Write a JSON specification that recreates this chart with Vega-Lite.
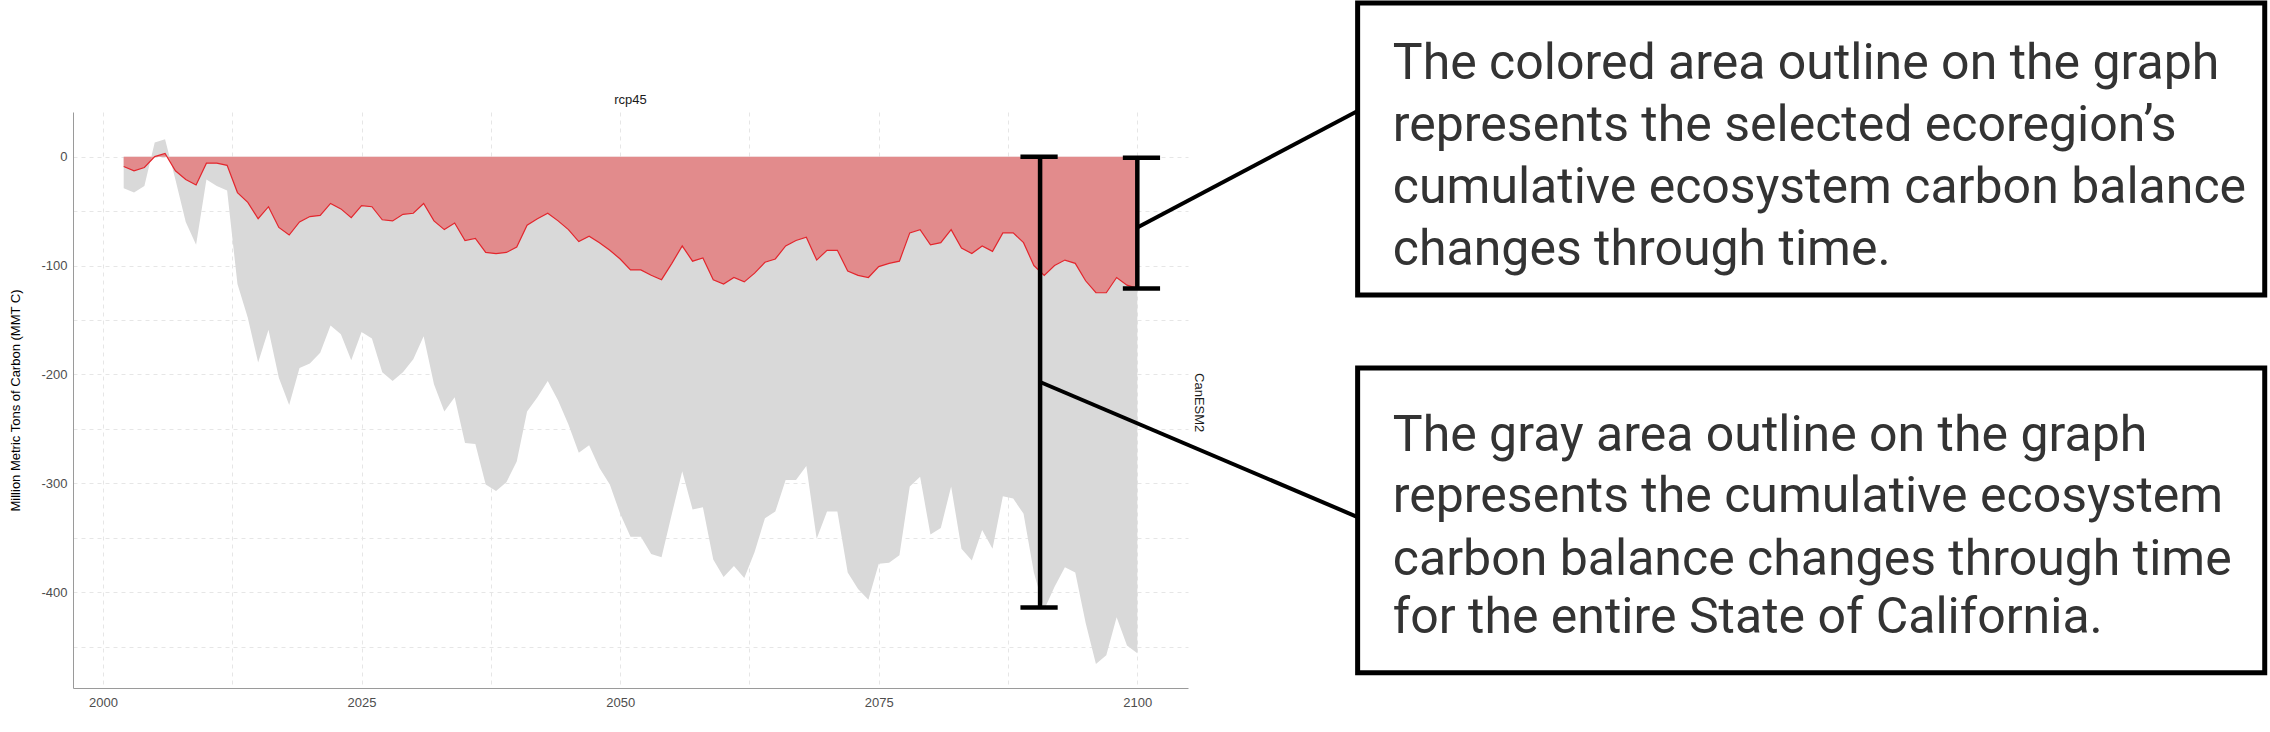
{
"$schema":"https://vega.github.io/schema/vega-lite/v6.json",
"width":1115,"height":576,
"autosize":{"type":"none"},
"padding":{"left":73,"top":112,"right":1082,"bottom":44},
"background":"white",
"config":{"view":{"stroke":null},"font":"Liberation Sans"},
"datasets":{
"series":[
{"year":2002,"region":-9,"state":-29},{"year":2003,"region":-13,"state":-33},{"year":2004,"region":-10,"state":-27},{"year":2005,"region":0,"state":13},{"year":2006,"region":3,"state":16},{"year":2007,"region":-13,"state":-21},{"year":2008,"region":-21,"state":-60},{"year":2009,"region":-26,"state":-81},{"year":2010,"region":-6,"state":-21},{"year":2011,"region":-6,"state":-27},{"year":2012,"region":-8,"state":-31},{"year":2013,"region":-33,"state":-117},{"year":2014,"region":-42,"state":-148},{"year":2015,"region":-57,"state":-189},{"year":2016,"region":-46,"state":-159},{"year":2017,"region":-65,"state":-203},{"year":2018,"region":-72,"state":-228},{"year":2019,"region":-60,"state":-194},{"year":2020,"region":-55,"state":-190},{"year":2021,"region":-54,"state":-180},{"year":2022,"region":-43,"state":-155},{"year":2023,"region":-48,"state":-163},{"year":2024,"region":-56,"state":-187},{"year":2025,"region":-45,"state":-161},{"year":2026,"region":-46,"state":-167},{"year":2027,"region":-58,"state":-198},{"year":2028,"region":-59,"state":-206},{"year":2029,"region":-53,"state":-198},{"year":2030,"region":-52,"state":-186},{"year":2031,"region":-43,"state":-165},{"year":2032,"region":-59,"state":-209},{"year":2033,"region":-67,"state":-234},{"year":2034,"region":-61,"state":-221},{"year":2035,"region":-77,"state":-263},{"year":2036,"region":-75,"state":-264},{"year":2037,"region":-88,"state":-301},{"year":2038,"region":-89,"state":-307},{"year":2039,"region":-88,"state":-299},{"year":2040,"region":-83,"state":-280},{"year":2041,"region":-63,"state":-234},{"year":2042,"region":-57,"state":-221},{"year":2043,"region":-52,"state":-206},{"year":2044,"region":-59,"state":-224},{"year":2045,"region":-67,"state":-246},{"year":2046,"region":-78,"state":-272},{"year":2047,"region":-73,"state":-265},{"year":2048,"region":-79,"state":-286},{"year":2049,"region":-86,"state":-301},{"year":2050,"region":-94,"state":-328},{"year":2051,"region":-104,"state":-349},{"year":2052,"region":-104,"state":-349},{"year":2053,"region":-109,"state":-365},{"year":2054,"region":-113,"state":-368},{"year":2055,"region":-98,"state":-328},{"year":2056,"region":-82,"state":-289},{"year":2057,"region":-96,"state":-324},{"year":2058,"region":-93,"state":-322},{"year":2059,"region":-113,"state":-370},{"year":2060,"region":-117,"state":-386},{"year":2061,"region":-111,"state":-376},{"year":2062,"region":-115,"state":-387},{"year":2063,"region":-107,"state":-363},{"year":2064,"region":-97,"state":-332},{"year":2065,"region":-94,"state":-326},{"year":2066,"region":-82,"state":-297},{"year":2067,"region":-77,"state":-297},{"year":2068,"region":-74,"state":-284},{"year":2069,"region":-95,"state":-351},{"year":2070,"region":-86,"state":-326},{"year":2071,"region":-86,"state":-326},{"year":2072,"region":-105,"state":-382},{"year":2073,"region":-109,"state":-397},{"year":2074,"region":-111,"state":-407},{"year":2075,"region":-101,"state":-374},{"year":2076,"region":-98,"state":-373},{"year":2077,"region":-96,"state":-366},{"year":2078,"region":-70,"state":-303},{"year":2079,"region":-67,"state":-294},{"year":2080,"region":-81,"state":-347},{"year":2081,"region":-79,"state":-341},{"year":2082,"region":-67,"state":-303},{"year":2083,"region":-84,"state":-360},{"year":2084,"region":-89,"state":-371},{"year":2085,"region":-82,"state":-343},{"year":2086,"region":-87,"state":-360},{"year":2087,"region":-70,"state":-312},{"year":2088,"region":-70,"state":-314},{"year":2089,"region":-79,"state":-328},{"year":2090,"region":-100,"state":-382},{"year":2091,"region":-109,"state":-416},{"year":2092,"region":-100,"state":-395},{"year":2093,"region":-95,"state":-377},{"year":2094,"region":-98,"state":-382},{"year":2095,"region":-114,"state":-428},{"year":2096,"region":-125,"state":-466},{"year":2097,"region":-125,"state":-458},{"year":2098,"region":-111,"state":-423},{"year":2099,"region":-118,"state":-449},{"year":2100,"region":-121,"state":-456}
],
"brackets":[
{"x":2090.6,"x1":2088.7,"x2":2092.3,"top":0,"bottom":-414},
{"x":2100,"x1":2098.6,"x2":2102.2,"top":-1,"bottom":-121}
],
"connectors":[
{"id":"a","o":0,"x":2100,"y":-65},{"id":"a","o":1,"x":2121.3,"y":42},
{"id":"b","o":0,"x":2090.6,"y":-207},{"id":"b","o":1,"x":2121.3,"y":-331}
],
"boxes":[
{"x1":2121.3,"x2":2209.0,"y1":141,"y2":-127},
{"x1":2121.3,"x2":2209.0,"y1":-194,"y2":-474}
],
"notes":[
{"x":2124.7,"y":85,"t":"The colored area outline on the graph"},
{"x":2124.7,"y":28,"t":"represents the selected ecoregion’s"},
{"x":2124.7,"y":-29,"t":"cumulative ecosystem carbon balance"},
{"x":2124.7,"y":-86,"t":"changes through time."},
{"x":2124.7,"y":-257,"t":"The gray area outline on the graph"},
{"x":2124.7,"y":-313,"t":"represents the cumulative ecosystem"},
{"x":2124.7,"y":-370,"t":"carbon balance changes through time"},
{"x":2124.7,"y":-424,"t":"for the entire State of California."}
]
},
"layer":[
{"data":{"name":"series"},"mark":{"type":"area","color":"#d9d9d9"},
 "encoding":{
  "x":{"field":"year","type":"quantitative","scale":{"domain":[1997.1,2104.9],"nice":false,"zero":false},
   "axis":{"title":null,"values":[2000,2012.5,2025,2037.5,2050,2062.5,2075,2087.5,2100],"labelExpr":"datum.value % 25 == 0 ? datum.value : ''","ticks":false,"grid":true,"gridDash":[4,4],"gridColor":"#e6e6e6","domainColor":"#9a9a9a","labelColor":"#4d4d4d","labelFontSize":13,"labelPadding":8,"labelFont":"Liberation Sans"}},
  "y":{"field":"state","type":"quantitative","scale":{"domain":[-488,41],"nice":false,"zero":false},
   "axis":{"title":"Million Metric Tons of Carbon (MMT C)","titleFontSize":13,"titleFontWeight":"normal","titleColor":"#000","titlePadding":18,"values":[-450,-400,-350,-300,-250,-200,-150,-100,-50,0],"labelExpr":"datum.value % 100 == 0 ? datum.value : ''","ticks":false,"grid":true,"gridDash":[4,4],"gridColor":"#e6e6e6","domainColor":"#9a9a9a","labelColor":"#4d4d4d","labelFontSize":13,"labelPadding":6}},
  "y2":{"datum":0}
 }},
{"data":{"name":"series"},"mark":{"type":"area","color":"#e66a6b","line":{"color":"#e3262d","strokeWidth":1.2}},
 "encoding":{"x":{"field":"year","type":"quantitative"},"y":{"field":"region","type":"quantitative"},"y2":{"datum":0}}},
{"mark":{"type":"rule","color":"#555","strokeWidth":1},"encoding":{"y":{"datum":0}}},
{"data":{"values":[{"t":"rcp45","x":2051,"y":52}]},"mark":{"type":"text","fontSize":13,"color":"#1a1a1a","baseline":"middle"},
 "encoding":{"x":{"field":"x","type":"quantitative"},"y":{"field":"y","type":"quantitative"},"text":{"field":"t"}}},
{"data":{"values":[{"t":"CanESM2","x":2106,"y":-226}]},"mark":{"type":"text","fontSize":13,"color":"#1a1a1a","angle":90,"baseline":"middle"},
 "encoding":{"x":{"field":"x","type":"quantitative"},"y":{"field":"y","type":"quantitative"},"text":{"field":"t"}}},
{"data":{"name":"brackets"},"mark":{"type":"rule","color":"#000","strokeWidth":4.5},
 "encoding":{"x":{"field":"x","type":"quantitative"},"y":{"field":"top","type":"quantitative"},"y2":{"field":"bottom"}}},
{"data":{"name":"brackets"},"mark":{"type":"rule","color":"#000","strokeWidth":4.5},
 "encoding":{"x":{"field":"x1","type":"quantitative"},"x2":{"field":"x2"},"y":{"field":"top","type":"quantitative"}}},
{"data":{"name":"brackets"},"mark":{"type":"rule","color":"#000","strokeWidth":4.5},
 "encoding":{"x":{"field":"x1","type":"quantitative"},"x2":{"field":"x2"},"y":{"field":"bottom","type":"quantitative"}}},
{"data":{"name":"connectors"},"mark":{"type":"line","color":"#000","strokeWidth":4},
 "encoding":{"x":{"field":"x","type":"quantitative"},"y":{"field":"y","type":"quantitative"},"detail":{"field":"id"},"order":{"field":"o"}}},
{"data":{"name":"boxes"},"mark":{"type":"rect","fill":"white","stroke":"#000","strokeWidth":5},
 "encoding":{"x":{"field":"x1","type":"quantitative"},"x2":{"field":"x2"},"y":{"field":"y1","type":"quantitative"},"y2":{"field":"y2"}}},
{"data":{"name":"notes"},"mark":{"type":"text","align":"left","baseline":"middle","font":"Roboto","fontSize":50,"color":"#333333"},
 "encoding":{"x":{"field":"x","type":"quantitative"},"y":{"field":"y","type":"quantitative"},"text":{"field":"t"}}}
]
}
